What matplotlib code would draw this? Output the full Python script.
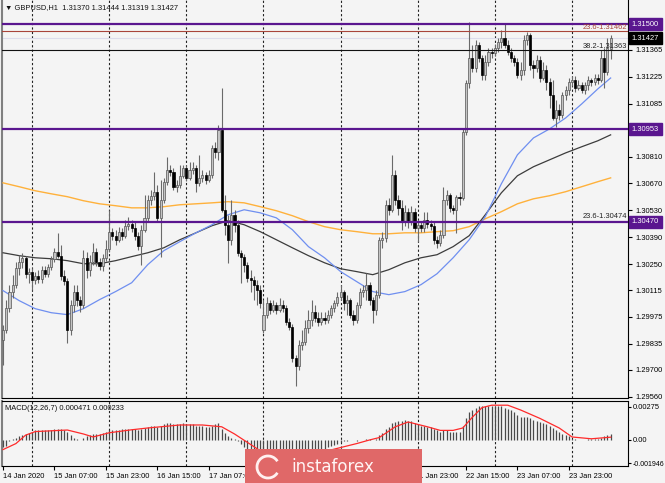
import matplotlib
matplotlib.use('Agg')
import matplotlib.pyplot as plt
import matplotlib.transforms as mtransforms
from matplotlib.patches import Rectangle, Arc

# ---------------- data (GBPUSD H1, 14 Jan 15:00 .. 24 Jan 12:00) ----------------
opens = [
1.29857, 1.29909, 1.30023, 1.30107, 1.30143, 1.30231, 1.30263, 1.30283, 1.30200, 1.30211,
1.30169, 1.30190, 1.30174, 1.30221, 1.30200, 1.30237, 1.30278, 1.30315, 1.30294, 1.30190,
1.30164, 1.29909, 1.30039, 1.30107, 1.30065, 1.30039, 1.30283, 1.30221, 1.30263, 1.30315,
1.30263, 1.30242, 1.30283, 1.30330, 1.30419, 1.30398, 1.30377, 1.30419, 1.30398, 1.30450,
1.30460, 1.30439, 1.30398, 1.30346, 1.30429, 1.30491, 1.30585, 1.30606, 1.30627, 1.30491,
1.30585, 1.30679, 1.30741, 1.30731, 1.30653, 1.30663, 1.30710, 1.30751, 1.30699, 1.30741,
1.30751, 1.30673, 1.30699, 1.30715, 1.30689, 1.30715, 1.30855, 1.30835, 1.30949, 1.30533,
1.30455, 1.30377, 1.30507, 1.30455, 1.30309, 1.30289, 1.30247, 1.30179, 1.30169, 1.30143,
1.30117, 1.29909, 1.29987, 1.30049, 1.30013, 1.30039, 1.30013, 1.30039, 1.30023, 1.29951,
1.29925, 1.29763, 1.29717, 1.29831, 1.29847, 1.29919, 1.29961, 1.30003, 1.29971, 1.29951,
1.29971, 1.29961, 1.29987, 1.30023, 1.30049, 1.30081, 1.30107, 1.30049, 1.30065, 1.29987,
1.29961, 1.30039, 1.30107, 1.30117, 1.30143, 1.30065, 1.30013, 1.30091, 1.30377, 1.30387,
1.30559, 1.30533, 1.30715, 1.30585, 1.30543, 1.30471, 1.30523, 1.30471, 1.30523, 1.30439,
1.30455, 1.30439, 1.30481, 1.30460, 1.30450, 1.30377, 1.30361, 1.30403, 1.30585, 1.30611,
1.30543, 1.30533, 1.30601, 1.30595, 1.30939, 1.31193, 1.31323, 1.31271, 1.31391, 1.31323,
1.31235, 1.31303, 1.31355, 1.31349, 1.31375, 1.31407, 1.31427, 1.31391, 1.31355, 1.31323,
1.31303, 1.31235, 1.31261, 1.31417, 1.31443, 1.31287, 1.31271, 1.31313, 1.31219, 1.31261,
1.31199, 1.31131, 1.31011, 1.31053, 1.31027, 1.31131, 1.31157, 1.31199, 1.31209, 1.31167,
1.31183, 1.31157, 1.31183, 1.31209, 1.31199, 1.31219, 1.31209, 1.31323, 1.31251, 1.31370,
]
highs = [
1.29935, 1.30065, 1.30143, 1.30195, 1.30263, 1.30299, 1.30309, 1.30294, 1.30231, 1.30231,
1.30211, 1.30221, 1.30242, 1.30242, 1.30252, 1.30294, 1.30335, 1.30413, 1.30351, 1.30221,
1.30179, 1.30065, 1.30143, 1.30143, 1.30086, 1.30325, 1.30315, 1.30299, 1.30361, 1.30335,
1.30283, 1.30304, 1.30377, 1.30533, 1.30439, 1.30429, 1.30445, 1.30439, 1.30481, 1.30497,
1.30481, 1.30471, 1.30419, 1.30455, 1.30611, 1.30611, 1.30637, 1.30731, 1.30663, 1.30689,
1.30699, 1.30809, 1.30767, 1.30751, 1.30689, 1.30767, 1.30767, 1.30767, 1.30783, 1.30783,
1.30767, 1.30819, 1.30741, 1.30731, 1.30741, 1.30871, 1.30887, 1.30975, 1.31167, 1.30611,
1.30507, 1.30585, 1.30533, 1.30481, 1.30325, 1.30304, 1.30263, 1.30221, 1.30190, 1.30169,
1.30143, 1.30065, 1.30081, 1.30065, 1.30065, 1.30055, 1.30075, 1.30065, 1.30039, 1.29971,
1.29940, 1.29779, 1.29857, 1.29909, 1.29961, 1.30013, 1.30065, 1.30039, 1.30003, 1.30003,
1.30003, 1.30013, 1.30039, 1.30065, 1.30107, 1.30143, 1.30117, 1.30091, 1.30075, 1.30013,
1.30055, 1.30127, 1.30143, 1.30205, 1.30159, 1.30081, 1.30117, 1.30393, 1.30419, 1.30585,
1.30595, 1.30819, 1.30741, 1.30611, 1.30585, 1.30559, 1.30543, 1.30554, 1.30543, 1.30481,
1.30471, 1.30523, 1.30523, 1.30481, 1.30471, 1.30398, 1.30429, 1.30653, 1.30637, 1.30621,
1.30559, 1.30611, 1.30627, 1.30959, 1.31209, 1.31511, 1.31391, 1.31417, 1.31407, 1.31339,
1.31339, 1.31375, 1.31375, 1.31396, 1.31427, 1.31469, 1.31505, 1.31417, 1.31375, 1.31339,
1.31323, 1.31303, 1.31443, 1.31459, 1.31453, 1.31313, 1.31339, 1.31334, 1.31303, 1.31287,
1.31219, 1.31209, 1.31105, 1.31084, 1.31147, 1.31178, 1.31219, 1.31230, 1.31230, 1.31209,
1.31199, 1.31199, 1.31230, 1.31219, 1.31240, 1.31240, 1.31365, 1.31375, 1.31427, 1.31444,
]
lows = [
1.29727, 1.29893, 1.30003, 1.30075, 1.30127, 1.30195, 1.30231, 1.30179, 1.30153, 1.30117,
1.30148, 1.30153, 1.30153, 1.30185, 1.30185, 1.30221, 1.30263, 1.30283, 1.30169, 1.30143,
1.29841, 1.29883, 1.30003, 1.30034, 1.30003, 1.30023, 1.30179, 1.30190, 1.30247, 1.30242,
1.30221, 1.30216, 1.30268, 1.30315, 1.30377, 1.30351, 1.30367, 1.30377, 1.30387, 1.30429,
1.30419, 1.30377, 1.30325, 1.30247, 1.30419, 1.30471, 1.30559, 1.30585, 1.30471, 1.30289,
1.30569, 1.30663, 1.30710, 1.30637, 1.30627, 1.30647, 1.30699, 1.30684, 1.30689, 1.30720,
1.30627, 1.30658, 1.30679, 1.30668, 1.30679, 1.30699, 1.30803, 1.30793, 1.30523, 1.30403,
1.30257, 1.30351, 1.30419, 1.30294, 1.30153, 1.30211, 1.30159, 1.30107, 1.30065, 1.30039,
1.30023, 1.29893, 1.29971, 1.29992, 1.30003, 1.29992, 1.30003, 1.30003, 1.29935, 1.29909,
1.29743, 1.29613, 1.29701, 1.29805, 1.29831, 1.29893, 1.29930, 1.29951, 1.29930, 1.29935,
1.29940, 1.29945, 1.29971, 1.30003, 1.30034, 1.30065, 1.30013, 1.29987, 1.29971, 1.29935,
1.29945, 1.30023, 1.30081, 1.30065, 1.30039, 1.29945, 1.29987, 1.30075, 1.30335, 1.30367,
1.30507, 1.30523, 1.30559, 1.30507, 1.30429, 1.30450, 1.30439, 1.30455, 1.30419, 1.30367,
1.30419, 1.30419, 1.30439, 1.30429, 1.30356, 1.30335, 1.30346, 1.30387, 1.30559, 1.30523,
1.30512, 1.30413, 1.30559, 1.30585, 1.30923, 1.31167, 1.31251, 1.31251, 1.31303, 1.31209,
1.31209, 1.31282, 1.31323, 1.31334, 1.31355, 1.31375, 1.31375, 1.31339, 1.31303, 1.31282,
1.31219, 1.31209, 1.31235, 1.31391, 1.31261, 1.31219, 1.31251, 1.31199, 1.31209, 1.31157,
1.31063, 1.31001, 1.30965, 1.31001, 1.31011, 1.31105, 1.31131, 1.31178, 1.31147, 1.31157,
1.31141, 1.31136, 1.31157, 1.31178, 1.31183, 1.31188, 1.31199, 1.31167, 1.31235, 1.31319,
]
closes = [
1.29909, 1.30023, 1.30107, 1.30143, 1.30231, 1.30263, 1.30283, 1.30200, 1.30211, 1.30169,
1.30190, 1.30174, 1.30221, 1.30200, 1.30237, 1.30278, 1.30315, 1.30294, 1.30190, 1.30164,
1.29909, 1.30039, 1.30107, 1.30065, 1.30039, 1.30283, 1.30221, 1.30263, 1.30315, 1.30263,
1.30242, 1.30283, 1.30330, 1.30419, 1.30398, 1.30377, 1.30419, 1.30398, 1.30450, 1.30460,
1.30439, 1.30398, 1.30346, 1.30429, 1.30491, 1.30585, 1.30606, 1.30627, 1.30491, 1.30585,
1.30679, 1.30741, 1.30731, 1.30653, 1.30663, 1.30710, 1.30751, 1.30699, 1.30741, 1.30751,
1.30673, 1.30699, 1.30715, 1.30689, 1.30715, 1.30855, 1.30835, 1.30949, 1.30533, 1.30455,
1.30377, 1.30507, 1.30455, 1.30309, 1.30289, 1.30247, 1.30179, 1.30169, 1.30143, 1.30117,
1.30049, 1.29987, 1.30049, 1.30013, 1.30039, 1.30013, 1.30039, 1.30023, 1.29951, 1.29925,
1.29763, 1.29717, 1.29831, 1.29847, 1.29919, 1.29961, 1.30003, 1.29971, 1.29951, 1.29971,
1.29961, 1.29987, 1.30023, 1.30049, 1.30081, 1.30107, 1.30049, 1.30065, 1.29987, 1.29961,
1.30039, 1.30107, 1.30117, 1.30143, 1.30065, 1.30013, 1.30091, 1.30377, 1.30387, 1.30559,
1.30533, 1.30715, 1.30585, 1.30543, 1.30471, 1.30523, 1.30471, 1.30523, 1.30439, 1.30455,
1.30439, 1.30481, 1.30460, 1.30450, 1.30377, 1.30361, 1.30403, 1.30585, 1.30611, 1.30543,
1.30533, 1.30601, 1.30595, 1.30939, 1.31193, 1.31323, 1.31271, 1.31391, 1.31323, 1.31235,
1.31303, 1.31355, 1.31349, 1.31375, 1.31407, 1.31427, 1.31391, 1.31355, 1.31323, 1.31303,
1.31235, 1.31261, 1.31417, 1.31443, 1.31287, 1.31271, 1.31313, 1.31219, 1.31261, 1.31199,
1.31131, 1.31011, 1.31053, 1.31027, 1.31131, 1.31157, 1.31199, 1.31209, 1.31167, 1.31183,
1.31157, 1.31183, 1.31209, 1.31199, 1.31219, 1.31209, 1.31323, 1.31251, 1.31375, 1.31427,
]

# moving averages read at sample bars
ma_idx = [0, 5, 10, 15, 20, 25, 30, 35, 40, 45, 50, 55, 60, 65, 70, 75, 80, 85, 90, 95,
          100, 105, 110, 115, 120, 125, 130, 135, 140, 145, 150, 155, 160, 165, 170, 175,
          180, 185, 189]
ma_fast = [1.30112, 1.30060, 1.30018, 1.29997, 1.29987, 1.30018, 1.30065, 1.30107, 1.30153,
           1.30247, 1.30320, 1.30367, 1.30413, 1.30455, 1.30507, 1.30533, 1.30517, 1.30491,
           1.30429, 1.30341, 1.30283, 1.30211, 1.30159, 1.30107, 1.30091, 1.30107, 1.30143,
           1.30200, 1.30283, 1.30377, 1.30497, 1.30668, 1.30819, 1.30907, 1.30954, 1.31011,
           1.31084, 1.31162, 1.31219]
ma_mid = [1.30309, 1.30294, 1.30283, 1.30278, 1.30268, 1.30252, 1.30252, 1.30268, 1.30289,
          1.30309, 1.30335, 1.30377, 1.30413, 1.30450, 1.30476, 1.30455, 1.30419, 1.30377,
          1.30335, 1.30294, 1.30257, 1.30226, 1.30211, 1.30195, 1.30221, 1.30257, 1.30283,
          1.30299, 1.30341, 1.30398, 1.30507, 1.30621, 1.30710, 1.30757, 1.30793, 1.30829,
          1.30861, 1.30892, 1.30923]
ma_slow = [1.30673, 1.30653, 1.30632, 1.30616, 1.30601, 1.30580, 1.30564, 1.30554, 1.30543,
           1.30543, 1.30549, 1.30559, 1.30564, 1.30569, 1.30575, 1.30569, 1.30549, 1.30528,
           1.30502, 1.30471, 1.30445, 1.30429, 1.30419, 1.30408, 1.30408, 1.30413, 1.30413,
           1.30419, 1.30424, 1.30445, 1.30486, 1.30523, 1.30564, 1.30590, 1.30606, 1.30627,
           1.30653, 1.30679, 1.30699]

# MACD histogram (one value per bar) and signal line samples
macd_hist = [
-0.0006, -0.0005, -0.0001, 0.0001, 0.0002, 0.0003, 0.0004, 0.0005, 0.0006, 0.0007,
0.0008, 0.0008, 0.0008, 0.0008, 0.00085, 0.00085, 0.0009, 0.0009, 0.0009, 0.0008,
0.0007, 0.0004, 0.0002, 0.0001, 0.0000, 0.0002, 0.0003, 0.0004, 0.0005, 0.0005,
0.0005, 0.0006, 0.0007, 0.0008, 0.0008, 0.0008, 0.0008, 0.0009, 0.0009, 0.0009,
0.0009, 0.0009, 0.0008, 0.0009, 0.0010, 0.0011, 0.0012, 0.0012, 0.0011, 0.0012,
0.0013, 0.0014, 0.0014, 0.0013, 0.0013, 0.0013, 0.0014, 0.0013, 0.0013, 0.0013,
0.0012, 0.0012, 0.0012, 0.0011, 0.0011, 0.0012, 0.0013, 0.0014, 0.0009, 0.0006,
0.0003, 0.0002, 0.0001, -0.0001, -0.0003, -0.0006, -0.0008, -0.0011, -0.0013, -0.0015,
-0.0017, -0.0018, -0.0018, -0.0018, -0.0018, -0.0018, -0.0018, -0.0018, -0.0018, -0.0018,
-0.0019, -0.00195, -0.0019, -0.0018, -0.0017, -0.0015, -0.0014, -0.0012, -0.0011, -0.0009,
-0.0008, -0.0006, -0.0005, -0.0004, -0.0003, -0.0002, -0.0001, -0.0001, 0.0000, 0.0000,
-0.0001, 0.0000, 0.0000, 0.0001, 0.0001, 0.0000, 0.0001, 0.0004, 0.0006, 0.0009,
0.0011, 0.0014, 0.0015, 0.0016, 0.0016, 0.0017, 0.0016, 0.0016, 0.0014, 0.0013,
0.0012, 0.0012, 0.0011, 0.0011, 0.0009, 0.0008, 0.0007, 0.0008, 0.0008, 0.0007,
0.0007, 0.0007, 0.0007, 0.0012, 0.0018, 0.0023, 0.0025, 0.0027, 0.0028, 0.0028,
0.0028, 0.0028, 0.0028, 0.0028, 0.0028, 0.0028, 0.0027, 0.0026, 0.0025, 0.0023,
0.0021, 0.0019, 0.0019, 0.0019, 0.0018, 0.0017, 0.0016, 0.0015, 0.0014, 0.0013,
0.0012, 0.0010, 0.0008, 0.0007, 0.0005, 0.0004, 0.0003, 0.0001, 0.0001, 0.0000,
0.0000, 0.0000, 0.0001, 0.0001, 0.0001, 0.0001, 0.0002, 0.0003, 0.0004, 0.000471,
]
sig_idx = [0, 4, 7, 10, 20, 25, 28, 33, 40, 45, 55, 62, 68, 72, 76, 80, 88, 96, 102, 110, 114,
           117, 122, 126, 132, 136, 140, 143, 146, 149, 152, 157, 161, 167, 173, 177, 183, 189]
sig_val = [-0.0008, -0.0003, 0.0004, 0.0007, 0.00083, 0.0005, 0.00025, 0.0006, 0.00085, 0.001,
           0.00125, 0.00125, 0.0011, 0.0005, -0.0002, -0.0009, -0.0014, -0.0013, -0.00083, -0.0003,
           0.0, 0.0002, 0.0011, 0.0015, 0.0011, 0.0008, 0.0008, 0.001, 0.0019, 0.0027, 0.0029,
           0.0029, 0.0025, 0.0018, 0.001, 0.00025, 0.0001, 0.000233]

# horizontal levels
purple_levels = [1.31500, 1.30953, 1.30470]
fib_top = 1.31462
fib_mid = 1.31363
fib_low = 1.30474
bid = 1.31427

price_ticks = [1.31365, 1.31225, 1.31085, 1.30810, 1.30670, 1.30530, 1.30390,
               1.30250, 1.30115, 1.29975, 1.29835, 1.29700, 1.29560]
day_starts = [9, 33, 57, 81, 105, 129, 153, 177]
# time labels every 16 bars; those fully hidden by the watermark in the reference are blank
xtick_idx = [0, 16, 32, 48, 64, 80, 96, 112, 128, 144, 160, 176]
xtick_lbl = ['14 Jan 2020', '15 Jan 07:00', '15 Jan 23:00', '16 Jan 15:00', '17 Jan 07:00',
             '', '', '', '21 Jan 23:00', '22 Jan 15:00',
             '23 Jan 07:00', '23 Jan 23:00']

# ---------------- drawing ----------------
W, H = 665, 483
BG = '#f4f4f4'
PURPLE = '#5a168f'
FS = 5.4
plt.rcParams['font.family'] = ['Liberation Sans', 'DejaVu Sans']

fig = plt.figure(figsize=(W / 100, H / 100), dpi=100)
fig.patch.set_facecolor(BG)


def px_rect(x0, y0, x1, y1):
    return [x0 / W, 1 - y1 / H, (x1 - x0) / W, (y1 - y0) / H]


ax = fig.add_axes(px_rect(2, 0, 628, 398))
axm = fig.add_axes(px_rect(2, 401, 628, 466))
xmin, xmax = -0.33, 194.4

for a in (ax, axm):
    a.set_facecolor(BG)
    a.set_xlim(xmin, xmax)
    for d in day_starts:
        a.axvline(d, color='#222222', lw=0.8, ls=(0, (2, 2)), zorder=1)

n = len(closes)
xs = list(range(n))

# candles
ax.vlines(xs, lows, highs, color='#6a6a6a', lw=0.8, zorder=4)
bottoms = [min(o, c) for o, c in zip(opens, closes)]
heights = [max(abs(c - o), 0.00003) for o, c in zip(opens, closes)]
faces = ['#c4c4c4' if c >= o else '#000000' for o, c in zip(opens, closes)]
edges = ['#555555' if c >= o else '#000000' for o, c in zip(opens, closes)]
ax.bar(xs, heights, bottom=bottoms, width=0.66, color=faces, edgecolor=edges,
       linewidth=0.5, zorder=5)

# moving averages
ax.plot(ma_idx, ma_slow, color='#ffb13b', lw=1.0, zorder=3)
ax.plot(ma_idx, ma_mid, color='#3c3c3c', lw=0.9, zorder=3)
ax.plot(ma_idx, ma_fast, color='#6f8ff0', lw=0.9, zorder=3)

# levels
for lv in purple_levels:
    ax.axhline(lv, color=PURPLE, lw=1.6, zorder=6)
ax.axhline(fib_top, color='#a8443a', lw=0.8, zorder=6)
ax.axhline(bid, color='#dcdcec', lw=0.8, zorder=2)
ax.axhline(fib_mid, color='#111111', lw=0.8, zorder=6)

ax.set_ylim(1.29553, 1.31625)
blend = mtransforms.blended_transform_factory(ax.transAxes, ax.transData)
ax.text(0.998, fib_top + 0.00003, '23.6-1.31462', transform=blend, ha='right', va='bottom',
        fontsize=FS, color='#a8443a', zorder=7)
ax.text(0.998, fib_mid + 0.00003, '38.2-1.31363', transform=blend, ha='right', va='bottom',
        fontsize=FS, color='#222222', zorder=7)
ax.text(0.998, fib_low + 0.00008, '23.6-1.30474', transform=blend, ha='right', va='bottom',
        fontsize=FS, color='#222222', zorder=7)

# right price axis
ax.yaxis.tick_right()
all_ticks = price_ticks + purple_levels + [bid]
ax.set_yticks(all_ticks)
ax.set_yticklabels(['%.5f' % v for v in price_ticks] + [''] * 4)
ax.tick_params(axis='y', direction='out', length=3, width=0.8, pad=2, labelsize=FS, colors='black')
ax.set_xticks([])
for lv in purple_levels:
    ax.text(1.006, lv, '%.5f' % lv, transform=blend, ha='left', va='center', fontsize=FS,
            color='white', zorder=8, clip_on=False,
            bbox=dict(boxstyle='square,pad=0.35', fc=PURPLE, ec=PURPLE))
ax.text(1.006, bid, '%.5f' % bid, transform=blend, ha='left', va='center', fontsize=FS,
        color='white', zorder=8, clip_on=False,
        bbox=dict(boxstyle='square,pad=0.35', fc='black', ec='black'))

ax.spines['top'].set_visible(False)
ax.spines['left'].set_color('#808080')
ax.spines['left'].set_linewidth(1.5)
ax.spines['right'].set_color('black')
ax.spines['bottom'].set_color('black')

# MACD panel
axm.vlines(xs, 0, macd_hist, color='#4a4a4a', lw=0.9, zorder=3)
axm.plot(sig_idx, sig_val, color='#ff2a2a', lw=0.9, zorder=4)
axm.set_ylim(-0.00217, 0.00325)
axm.yaxis.tick_right()
axm.set_yticks([0.00275, 0.0, -0.001946])
ylabels = axm.set_yticklabels(['0.00275', '0.00', '-0.001946'])
axm.tick_params(axis='y', direction='out', length=2, width=0.8, pad=1.5, labelsize=FS)
ylabels[2].set_fontsize(5.0)
axm.set_xticks(xtick_idx)
axm.set_xticklabels(xtick_lbl, ha='left')
axm.tick_params(axis='x', direction='out', length=3, width=0.8, pad=2, labelsize=FS)
axm.spines['left'].set_color('#808080')
axm.spines['left'].set_linewidth(1.5)

# header texts
fig.text(5 / W, 1 - 8 / H, '\u25bc GBPUSD,H1  1.31370 1.31444 1.31319 1.31427',
         fontsize=FS, va='center', ha='left', color='#111111')
fig.text(5 / W, 1 - 408 / H, 'MACD(12,26,7) 0.000471 0.000233',
         fontsize=FS, va='center', ha='left', color='#111111')

# watermark
fig.patches.append(Rectangle((245 / W, 0), 177 / W, 34 / H, transform=fig.transFigure,
                             facecolor='#e06868', edgecolor='none', zorder=20))
fig.patches.append(Arc((268 / W, 16 / H), 22 / W, 22 / H, theta1=40, theta2=320,
                       transform=fig.transFigure, color='#fff0f0', lw=2.0, zorder=21))
fig.text(333 / W, (483 - 467) / H, 'instaforex', fontsize=12, color='#fff4f4',
         family='DejaVu Sans', ha='center', va='center', zorder=21)

fig.savefig('out.png', dpi=100, facecolor=BG)
